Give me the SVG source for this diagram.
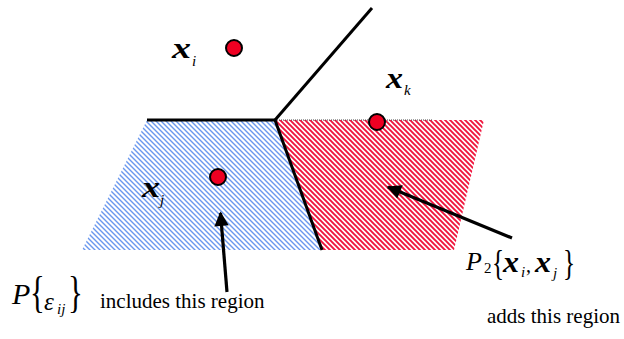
<svg xmlns="http://www.w3.org/2000/svg" width="624" height="339" viewBox="0 0 624 339">
<defs>
<pattern id="hb" patternUnits="userSpaceOnUse" width="5" height="5">
<rect width="5" height="5" fill="#fff"/>
<path d="M-1,-1 L6,6 M-1,4 L1,6 M4,-1 L6,1" stroke="#6a97ee" stroke-width="1.4"/>
</pattern>
<pattern id="hr" patternUnits="userSpaceOnUse" width="5" height="5">
<rect width="5" height="5" fill="#fff"/>
<path d="M-1,-1 L6,6 M-1,4 L1,6 M4,-1 L6,1" stroke="#f0143c" stroke-width="1.9"/>
</pattern>
<marker id="ah" viewBox="0 0 10 10" refX="9" refY="5" markerWidth="5" markerHeight="4.5" orient="auto" markerUnits="strokeWidth">
<path d="M0,0 L10,5 L0,10 z" fill="#000"/>
</marker>
</defs>
<style>
text{font-family:"Liberation Serif","Times New Roman",serif;fill:#000}
.dot{fill:#ee0022;stroke:#000;stroke-width:2}
.edge{stroke:#000;stroke-width:3;fill:none}
.vx{font-weight:bold;font-style:italic;font-size:30px}
.sub{font-style:italic;font-size:15px}
.lbl{font-size:21px}
.arr{stroke:#000;stroke-width:3.2;marker-end:url(#ah)}
</style>
<g id="regionJ"><polygon points="147,120 275,120 322,250 82,250" fill="url(#hb)"/></g>
<g id="regionAdd"><polygon points="275,120 484,120 454,250 322,250" fill="url(#hr)"/></g>
<g id="edges">
<line class="edge" x1="147" y1="120" x2="276" y2="120"/>
<line class="edge" x1="275" y1="120" x2="372" y2="8"/>
<line class="edge" x1="275" y1="120" x2="322" y2="250"/>
<line x1="277" y1="120" x2="433" y2="120" stroke="#444" stroke-width="1" stroke-dasharray="1,1"/>
</g>
<g id="xi"><circle class="dot" cx="234" cy="48" r="8"/><text class="vx" x="172" y="58" textLength="19" lengthAdjust="spacingAndGlyphs">x</text><text class="sub" x="192" y="66">i</text></g>
<g id="xk"><circle class="dot" cx="377" cy="122" r="8"/><text class="vx" x="386" y="88" textLength="17" lengthAdjust="spacingAndGlyphs">x</text><text class="sub" x="404" y="95">k</text></g>
<g id="xj"><circle class="dot" cx="218" cy="177" r="8"/><text class="vx" x="142" y="197" textLength="18" lengthAdjust="spacingAndGlyphs">x</text><text class="sub" x="160" y="205">j</text></g>
<g id="connectors">
<line class="arr" x1="227" y1="292" x2="220.5" y2="213"/>
<line class="arr" x1="512" y1="238" x2="388" y2="187"/>
</g>
<g id="labelP">
<text x="12" y="304" font-size="30" font-style="italic">P</text>
<text x="30" y="307" font-size="44" transform="translate(30,307) scale(0.7,1) translate(-30,-307)">{</text>
<text x="44" y="310" font-size="25" font-style="italic">ε</text>
<text class="sub" x="57" y="314" font-size="14">ij</text>
<text x="68" y="307" font-size="44" transform="translate(68,307) scale(0.7,1) translate(-68,-307)">}</text>
<text class="lbl" x="100" y="308">includes this region</text>
</g>
<g id="labelP2">
<text x="466" y="270" font-size="26" font-style="italic">P</text>
<text x="484" y="273" font-size="15">2</text>
<text x="492" y="275" font-size="36" transform="translate(492,275) scale(0.7,1) translate(-492,-275)">{</text>
<text class="vx" x="503" y="272" font-size="24" textLength="16" lengthAdjust="spacingAndGlyphs">x</text>
<text class="sub" x="521" y="277" font-size="13">i</text>
<text x="526" y="272" font-size="20">,</text>
<text class="vx" x="535" y="272" font-size="24" textLength="16" lengthAdjust="spacingAndGlyphs">x</text>
<text class="sub" x="553" y="278" font-size="13">j</text>
<text x="563" y="275" font-size="36" transform="translate(563,275) scale(0.7,1) translate(-563,-275)">}</text>
<text class="lbl" x="487" y="323">adds this region</text>
</g>
</svg>
